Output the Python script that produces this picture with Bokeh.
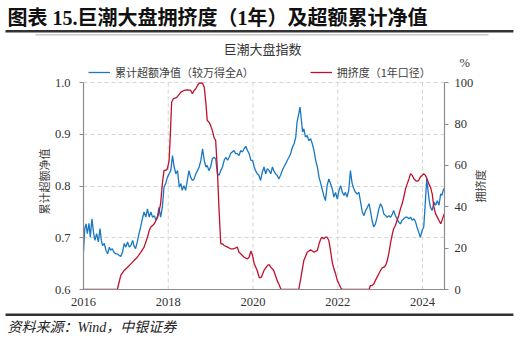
import math
from bokeh.plotting import figure
from bokeh.models import (Range1d, LinearAxis, FixedTicker, NumeralTickFormatter,
                          Legend, LegendItem, Grid, Label, Title)
from bokeh.embed import file_html
from bokeh.resources import INLINE

# ---------------- data ----------------
excess_year = [
    2016.00, 2016.03, 2016.06, 2016.09, 2016.13, 2016.16, 2016.20, 2016.24, 2016.27, 2016.31,
    2016.35, 2016.39, 2016.42, 2016.45, 2016.49, 2016.53, 2016.57, 2016.61, 2016.64, 2016.68,
    2016.72, 2016.76, 2016.80, 2016.84, 2016.88, 2016.92, 2016.96, 2017.00, 2017.04, 2017.08,
    2017.12, 2017.16, 2017.19, 2017.23, 2017.27, 2017.31, 2017.35, 2017.39, 2017.43, 2017.47,
    2017.51, 2017.55, 2017.59, 2017.63, 2017.67, 2017.71, 2017.75, 2017.78, 2017.82, 2017.86,
    2017.90, 2017.94, 2017.98, 2018.02, 2018.06, 2018.10, 2018.14, 2018.18, 2018.22, 2018.26,
    2018.30, 2018.33, 2018.37, 2018.41, 2018.45, 2018.49, 2018.53, 2018.57, 2018.61, 2018.65,
    2018.69, 2018.73, 2018.77, 2018.81, 2018.85, 2018.89, 2018.92, 2018.96, 2019.00, 2019.04,
    2019.08, 2019.12, 2019.16, 2019.20, 2019.24, 2019.28, 2019.32, 2019.36, 2019.40, 2019.44,
    2019.47, 2019.51, 2019.55, 2019.59, 2019.63, 2019.67, 2019.71, 2019.75, 2019.79, 2019.83,
    2019.87, 2019.91, 2019.95, 2019.99, 2020.03, 2020.06, 2020.10, 2020.14, 2020.18, 2020.22,
    2020.26, 2020.30, 2020.34, 2020.38, 2020.42, 2020.46, 2020.49, 2020.53, 2020.57, 2020.61,
    2020.65, 2020.69, 2020.73, 2020.77, 2020.81, 2020.85, 2020.89, 2020.93, 2020.97, 2021.01,
    2021.04, 2021.08, 2021.11, 2021.14, 2021.17, 2021.20, 2021.24, 2021.28, 2021.32, 2021.36,
    2021.40, 2021.44, 2021.48, 2021.52, 2021.56, 2021.60, 2021.63, 2021.67, 2021.71, 2021.75,
    2021.79, 2021.83, 2021.87, 2021.91, 2021.95, 2021.99, 2022.03, 2022.07, 2022.11, 2022.15,
    2022.18, 2022.22, 2022.26, 2022.30, 2022.34, 2022.38, 2022.42, 2022.46, 2022.50, 2022.54,
    2022.58, 2022.62, 2022.66, 2022.70, 2022.74, 2022.77, 2022.81, 2022.85, 2022.89, 2022.93,
    2022.97, 2023.01, 2023.05, 2023.09, 2023.13, 2023.17, 2023.21, 2023.25, 2023.29, 2023.32,
    2023.36, 2023.40, 2023.44, 2023.48, 2023.52, 2023.56, 2023.60, 2023.64, 2023.68, 2023.72,
    2023.76, 2023.80, 2023.84, 2023.87, 2023.91, 2023.95, 2023.99, 2024.03, 2024.07, 2024.10,
    2024.13, 2024.16, 2024.19, 2024.23, 2024.27, 2024.31, 2024.35, 2024.39, 2024.43, 2024.46,
    2024.50, 2024.53,
]
excess_nav = [
    0.672, 0.718, 0.727, 0.708, 0.728, 0.701, 0.737, 0.708, 0.695, 0.708,
    0.692, 0.718, 0.695, 0.685, 0.689, 0.676, 0.669, 0.682, 0.676, 0.679,
    0.672, 0.669, 0.669, 0.666, 0.664, 0.672, 0.689, 0.682, 0.692, 0.682,
    0.685, 0.695, 0.685, 0.679, 0.692, 0.708, 0.721, 0.737, 0.750, 0.740,
    0.756, 0.740, 0.750, 0.740, 0.743, 0.734, 0.743, 0.759, 0.740, 0.759,
    0.798, 0.805, 0.817, 0.824, 0.830, 0.859, 0.837, 0.824, 0.830, 0.798,
    0.805, 0.792, 0.801, 0.792, 0.811, 0.830, 0.817, 0.811, 0.814, 0.824,
    0.830, 0.837, 0.850, 0.872, 0.850, 0.837, 0.840, 0.830, 0.837, 0.853,
    0.856, 0.853, 0.824, 0.821, 0.830, 0.837, 0.850, 0.856, 0.850, 0.856,
    0.863, 0.866, 0.869, 0.863, 0.863, 0.859, 0.869, 0.866, 0.872, 0.877,
    0.869, 0.863, 0.850, 0.850, 0.837, 0.830, 0.824, 0.821, 0.811, 0.827,
    0.837, 0.824, 0.834, 0.830, 0.824, 0.837, 0.830, 0.824, 0.821, 0.814,
    0.821, 0.830, 0.837, 0.843, 0.850, 0.856, 0.863, 0.875, 0.882, 0.895,
    0.924, 0.940, 0.953, 0.930, 0.905, 0.911, 0.895, 0.898, 0.888, 0.892,
    0.882, 0.869, 0.850, 0.837, 0.817, 0.805, 0.795, 0.782, 0.772, 0.801,
    0.814, 0.805, 0.795, 0.779, 0.788, 0.775, 0.792, 0.801, 0.788, 0.782,
    0.788, 0.779, 0.792, 0.830, 0.805, 0.795, 0.788, 0.785, 0.788, 0.769,
    0.750, 0.743, 0.753, 0.759, 0.766, 0.753, 0.734, 0.721, 0.727, 0.740,
    0.756, 0.766, 0.759, 0.746, 0.743, 0.740, 0.743, 0.740, 0.746, 0.753,
    0.743, 0.737, 0.730, 0.727, 0.734, 0.737, 0.740, 0.740, 0.737, 0.740,
    0.734, 0.737, 0.730, 0.721, 0.711, 0.701, 0.714, 0.721, 0.772, 0.814,
    0.792, 0.772, 0.759, 0.753, 0.769, 0.763, 0.772, 0.763, 0.785, 0.782,
    0.795, 0.792,
]

crowd_year = [
    2016.00, 2016.40, 2016.80, 2016.84, 2016.88, 2016.96, 2017.04, 2017.12, 2017.19, 2017.27,
    2017.35, 2017.43, 2017.51, 2017.55, 2017.59, 2017.63, 2017.67, 2017.71, 2017.75, 2017.78,
    2017.82, 2017.86, 2017.90, 2017.94, 2017.98, 2018.02, 2018.04, 2018.06, 2018.08, 2018.12,
    2018.18, 2018.22, 2018.30, 2018.37, 2018.45, 2018.53, 2018.57, 2018.61, 2018.65, 2018.69,
    2018.73, 2018.77, 2018.81, 2018.85, 2018.89, 2018.92, 2018.96, 2019.00, 2019.04, 2019.08,
    2019.12, 2019.16, 2019.20, 2019.24, 2019.28, 2019.32, 2019.40, 2019.47, 2019.55, 2019.63,
    2019.67, 2019.71, 2019.79, 2019.87, 2019.91, 2019.95, 2019.99, 2020.03, 2020.10, 2020.15,
    2020.20, 2020.26, 2020.34, 2020.38, 2020.42, 2020.49, 2020.53, 2020.57, 2020.61, 2020.65,
    2020.67, 2020.90, 2021.08, 2021.12, 2021.16, 2021.20, 2021.28, 2021.36, 2021.44, 2021.52,
    2021.56, 2021.60, 2021.63, 2021.67, 2021.71, 2021.75, 2021.79, 2021.83, 2021.87, 2021.91,
    2021.95, 2021.99, 2022.03, 2022.07, 2022.11, 2022.40, 2022.74, 2022.77, 2022.81, 2022.85,
    2022.89, 2022.93, 2022.97, 2023.01, 2023.05, 2023.09, 2023.13, 2023.17, 2023.21, 2023.25,
    2023.29, 2023.32, 2023.36, 2023.40, 2023.44, 2023.48, 2023.52, 2023.56, 2023.60, 2023.64,
    2023.68, 2023.72, 2023.76, 2023.80, 2023.84, 2023.87, 2023.91, 2023.95, 2023.99, 2024.03,
    2024.07, 2024.11, 2024.15, 2024.19, 2024.23, 2024.27, 2024.31, 2024.35, 2024.39, 2024.43,
    2024.46, 2024.50, 2024.53,
]
crowd_pct = [
    0.0, 0.0, 0.0, 3.5, 6.8, 9.2, 10.8, 12.4, 14.0, 15.6,
    18.0, 20.5, 25.3, 28.5, 30.2, 31.0, 31.8, 33.4, 35.0, 37.4,
    41.5, 51.0, 57.6, 57.6, 58.4, 62.4, 70.5, 80.2, 90.6, 92.3,
    92.7, 93.4, 95.5, 96.3, 96.6, 96.3, 94.7, 96.3, 97.1, 98.7,
    99.8, 100.0, 99.8, 97.9, 89.8, 81.8, 81.0, 79.4, 77.0, 73.7,
    72.0, 57.6, 38.2, 22.1, 22.1, 21.3, 20.5, 19.7, 19.7, 20.5,
    18.0, 17.3, 15.6, 14.8, 15.6, 18.6, 16.4, 12.4, 9.2, 5.6,
    6.0, 9.2, 11.6, 12.1, 10.8, 9.2, 6.8, 4.4, 2.7, 0.6,
    0.0, 0.0, 0.0, 4.4, 9.2, 14.0, 18.0, 19.2, 18.0, 18.9,
    22.1, 24.5, 25.3, 24.5, 25.3, 25.3, 23.7, 18.9, 13.2, 10.0,
    7.6, 4.4, 2.7, 0.8, 0.0, 0.0, 0.0, 1.9, 1.9, 2.7,
    4.4, 6.0, 7.6, 9.2, 10.5, 10.8, 11.6, 14.0, 18.0, 22.9,
    26.9, 29.4, 31.0, 33.4, 35.8, 39.0, 41.5, 44.7, 48.7, 51.1,
    53.5, 56.0, 55.2, 53.5, 52.7, 52.4, 52.7, 54.4, 55.2, 56.0,
    55.2, 53.5, 51.1, 49.5, 46.3, 39.8, 36.6, 35.0, 33.4, 31.8,
    33.4, 35.8, 37.4,
]

year_ticks = [2016, 2018, 2020, 2022, 2024]
nav_ticks = [0.6, 0.7, 0.8, 0.9, 1.0]
pct_ticks = [0, 20, 40, 60, 80, 100]

title_text = "图表 15.巨潮大盘拥挤度（1年）及超额累计净值"
subtitle_text = "巨潮大盘指数"
series1_name = "累计超额净值（较万得全A）"
series2_name = "拥挤度（1年口径）"
left_label = "累计超额净值"
right_label = "拥挤度"
unit_text = "%"
source_text = "资料来源：Wind，中银证券"

# ---------------- layout constants (pixels) ----------------
W, H = 527, 345
FRAME_L, FRAME_R = 83, 444          # plot frame left/right
FRAME_T, AX_TOP, FRAME_B = 38, 82.3, 289   # frame top, y of 1.0/100 line, frame bottom
SPAN = FRAME_B - AX_TOP
NAV_END = 0.6 + 0.4 * (FRAME_B - FRAME_T) / SPAN
PCT_END = 100 * (FRAME_B - FRAME_T) / SPAN
UNIT_TICK = round(100 * (FRAME_B - 62) / SPAN, 1)     # where "%" sits
RLABEL_TICK = round(100 * (FRAME_B - 202) / SPAN, 1)  # lower end of the right axis title

BLUE = "#1878c4"
RED = "#c0102e"
AXIS = "#8c8c8c"
GRID = "#d4d4d4"
TXT = "#404040"
SERIF = "Liberation Serif"
CJK = "Noto Sans CJK SC"
MIXED = "Liberation Serif, Noto Sans CJK SC"
SP = "\u3000"   # ideographic space: used only to draw the horizontal rules

p = figure(width=W, height=H, output_backend="svg", toolbar_location=None,
           x_range=Range1d(2016, 2024.52), y_range=Range1d(0.6, NAV_END),
           min_border_left=FRAME_L, min_border_right=W - FRAME_R,
           min_border_top=FRAME_T, min_border_bottom=H - FRAME_B,
           title=None, x_axis_type=None, y_axis_type=None)
p.outline_line_color = None
p.background_fill_color = "white"
p.border_fill_color = "white"
p.extra_y_ranges = {"pct": Range1d(0, PCT_END)}

# ---- axes ----
xaxis = LinearAxis(ticker=FixedTicker(ticks=year_ticks),
                   formatter=NumeralTickFormatter(format="0"))
yaxis = LinearAxis(ticker=FixedTicker(ticks=nav_ticks),
                   formatter=NumeralTickFormatter(format="0.0"), bounds=(0.6, 1.0))
raxis = LinearAxis(y_range_name="pct", ticker=FixedTicker(ticks=pct_ticks),
                   formatter=NumeralTickFormatter(format="0"), bounds=(0, 100))
laxis = LinearAxis(y_range_name="pct", ticker=FixedTicker(ticks=[RLABEL_TICK]),
                   major_label_overrides={RLABEL_TICK: right_label})
uaxis = LinearAxis(y_range_name="pct", ticker=FixedTicker(ticks=[UNIT_TICK]),
                   major_label_overrides={UNIT_TICK: unit_text})
p.add_layout(xaxis, "below")
p.add_layout(yaxis, "left")
p.add_layout(raxis, "right")
p.add_layout(laxis, "right")
p.add_layout(uaxis, "right")

for ax in (xaxis, yaxis, raxis, laxis, uaxis):
    ax.axis_line_color = AXIS
    ax.axis_line_width = 1.2
    ax.major_tick_line_color = AXIS
    ax.minor_tick_line_color = None
    ax.major_label_text_font = SERIF
    ax.major_label_text_font_size = "12.5px"
    ax.major_label_text_color = "#333333"
xaxis.major_tick_out = 0
xaxis.major_tick_in = 0
xaxis.major_label_standoff = 8
yaxis.major_tick_out = 4
yaxis.major_tick_in = 0
yaxis.major_label_standoff = 9
raxis.major_tick_out = 4
raxis.major_tick_in = 0
raxis.major_label_standoff = 6
for ax in (laxis, uaxis):
    ax.axis_line_color = None
    ax.major_tick_line_color = None
    ax.major_tick_out = 0
    ax.major_tick_in = 0
laxis.major_label_text_font = CJK
laxis.major_label_text_font_size = "11px"
laxis.major_label_text_color = TXT
laxis.major_label_orientation = math.pi / 2
laxis.major_label_standoff = 4
uaxis.major_label_standoff = -40

# left axis title, in its own side panel
p.add_layout(Title(text=left_label, text_font=CJK, text_font_size="11px",
                   text_font_style="normal", text_color=TXT,
                   align="left", offset=FRAME_B - 214, vertical_align="bottom",
                   standoff=0), "left")

# ---- grid ----
p.add_layout(Grid(dimension=1, ticker=FixedTicker(ticks=nav_ticks[1:]),
                  grid_line_color=GRID, grid_line_dash="4 3", grid_line_width=1))
vx = year_ticks[1:]
p.segment(x0=vx, y0=[nav_ticks[0]] * len(vx), x1=vx, y1=[nav_ticks[-1]] * len(vx),
          line_color=GRID, line_dash="4 3", line_width=1)

# ---- series ----
r1 = p.line(excess_year, excess_nav, line_color=BLUE, line_width=1.3)
r2 = p.line(crowd_year, crowd_pct, y_range_name="pct", line_color=RED, line_width=1.3)

legend = Legend(items=[LegendItem(label=series1_name, renderers=[r1]),
                       LegendItem(label=series2_name, renderers=[r2])],
                orientation="horizontal", location=(88 - FRAME_L, FRAME_B - 80),
                padding=0, margin=0, spacing=56,
                border_line_color=None, background_fill_alpha=0,
                glyph_width=22, glyph_height=12, label_height=12,
                label_standoff=5, label_text_font=CJK,
                label_text_font_size="11px", label_text_color=TXT)
p.add_layout(legend, "center")

p.add_layout(Label(x=262 - FRAME_L, y=FRAME_B - 48, x_units="screen", y_units="screen",
                   text=subtitle_text, text_font=CJK, text_font_size="13px",
                   text_color="#333333", text_align="center", text_baseline="middle"))

# ---- header panels (first = nearest to frame) ----
p.add_layout(Title(text=SP * 453, text_font=CJK, text_font_size="1px",
                   text_color="#c8c8c8", background_fill_color="#c8c8c8",
                   align="left", offset=35 - FRAME_L, vertical_align="top",
                   standoff=3), "above")
p.add_layout(Title(text=SP * 301, text_font=CJK, text_font_size="1.7px",
                   text_color="#333333", background_fill_color="#333333",
                   align="left", offset=5 - FRAME_L, vertical_align="bottom",
                   standoff=0), "above")
p.add_layout(Title(text=title_text, text_font=MIXED, text_font_size="20px",
                   text_font_style="bold", text_color="#111111",
                   align="left", offset=7 - FRAME_L, vertical_align="bottom",
                   standoff=0), "above")

# ---- footer panels ----
p.add_layout(Title(text=SP * 301, text_font=CJK, text_font_size="1.7px",
                   text_color="#333333", background_fill_color="#333333",
                   align="left", offset=5 - FRAME_L, vertical_align="bottom",
                   standoff=7), "below")
p.add_layout(Title(text=source_text, text_font=MIXED, text_font_size="14px",
                   text_font_style="italic", text_color="#222222",
                   align="left", offset=7 - FRAME_L, vertical_align="top",
                   standoff=0), "below")

open("out.html", "w").write(file_html(p, INLINE))
